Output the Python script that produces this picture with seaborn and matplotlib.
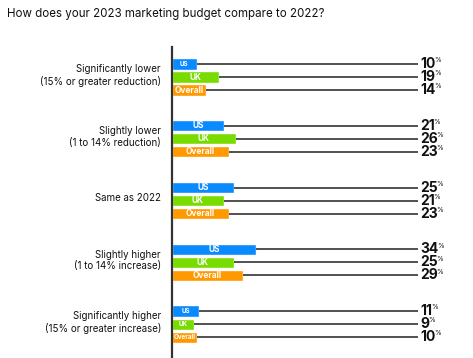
import matplotlib
matplotlib.use("Agg")
import matplotlib.pyplot as plt
import matplotlib.transforms as mtransforms
import seaborn as sns
import pandas as pd

# data
categories = ["Significantly lower\n(15% or greater reduction)",
              "Slightly lower\n(1 to 14% reduction)",
              "Same as 2022",
              "Slightly higher\n(1 to 14% increase)",
              "Significantly higher\n(15% or greater increase)"]
regions = ["US", "UK", "Overall"]
us = [10, 21, 25, 34, 11]
uk = [19, 26, 21, 25, 9]
overall = [14, 23, 23, 29, 10]
colors = {"US": "#0a8aff", "UK": "#78dc00", "Overall": "#ff9900"}

sns.set_theme(style="white")
plt.rcParams['font.family'] = ['Inter', 'DejaVu Sans']

rows = []
for i, c in enumerate(categories):
    rows.append((c, "US", us[i]))
    rows.append((c, "UK", uk[i]))
    rows.append((c, "Overall", overall[i]))
df = pd.DataFrame(rows, columns=["category", "region", "value"])

fig = plt.figure(figsize=(4.73, 3.58), dpi=100)
ax = fig.add_axes([172/473, 0.0, 246/473, 311/358])

sns.barplot(data=df, y="category", x="value", hue="region", hue_order=regions,
            palette=colors, orient="h", width=0.632, gap=0.15,
            saturation=1, legend=False, ax=ax)

ax.set_xlim(0, 100)
ax.set_ylim(4.55, -0.486)
ax.set_xlabel("")
ax.set_ylabel("")
ax.set_xticks([])
for s in ["top", "right", "bottom"]:
    ax.spines[s].set_visible(False)
ax.spines["left"].set_color("#333333")
ax.spines["left"].set_linewidth(1.6)
ax.tick_params(axis="y", length=0, pad=8, labelsize=7, colors="#111111")
# nudge the category labels up a little
shift = mtransforms.ScaledTranslation(0, 2.5/72, fig.dpi_scale_trans)
for lab in ax.get_yticklabels():
    lab.set_linespacing(1.2)
    lab.set_transform(lab.get_transform() + shift)

# connector lines + value labels, from the drawn bars
for cont, reg in zip(ax.containers, regions):
    for bar in cont:
        w = bar.get_width()
        yc = bar.get_y() + bar.get_height() / 2
        ax.plot([w, 100], [yc, yc], color="#222222", lw=1.1, zorder=1,
                solid_capstyle="butt")
        fs = 6 if w >= 13 else 4.5
        ax.text(w / 2, yc, reg, ha="center", va="center", color="white",
                fontsize=fs, fontweight="bold", zorder=3)
        t = ax.annotate(f"{int(w)}", xy=(100, yc), xytext=(1.5, 0),
                        textcoords="offset points", ha="left", va="center",
                        fontsize=10, fontweight="bold", color="#111111",
                        annotation_clip=False)
        ax.annotate("%", xy=(1, 1), xycoords=t, xytext=(-0.8, -0.3),
                    textcoords="offset points", ha="left", va="top",
                    fontsize=5, color="#111111", annotation_clip=False)

fig.text(7/473, 1 - 14/358, "How does your 2023 marketing budget compare to 2022?",
         ha="left", va="center", fontsize=8.3, color="#111111")

fig.savefig("out.png", dpi=100)
